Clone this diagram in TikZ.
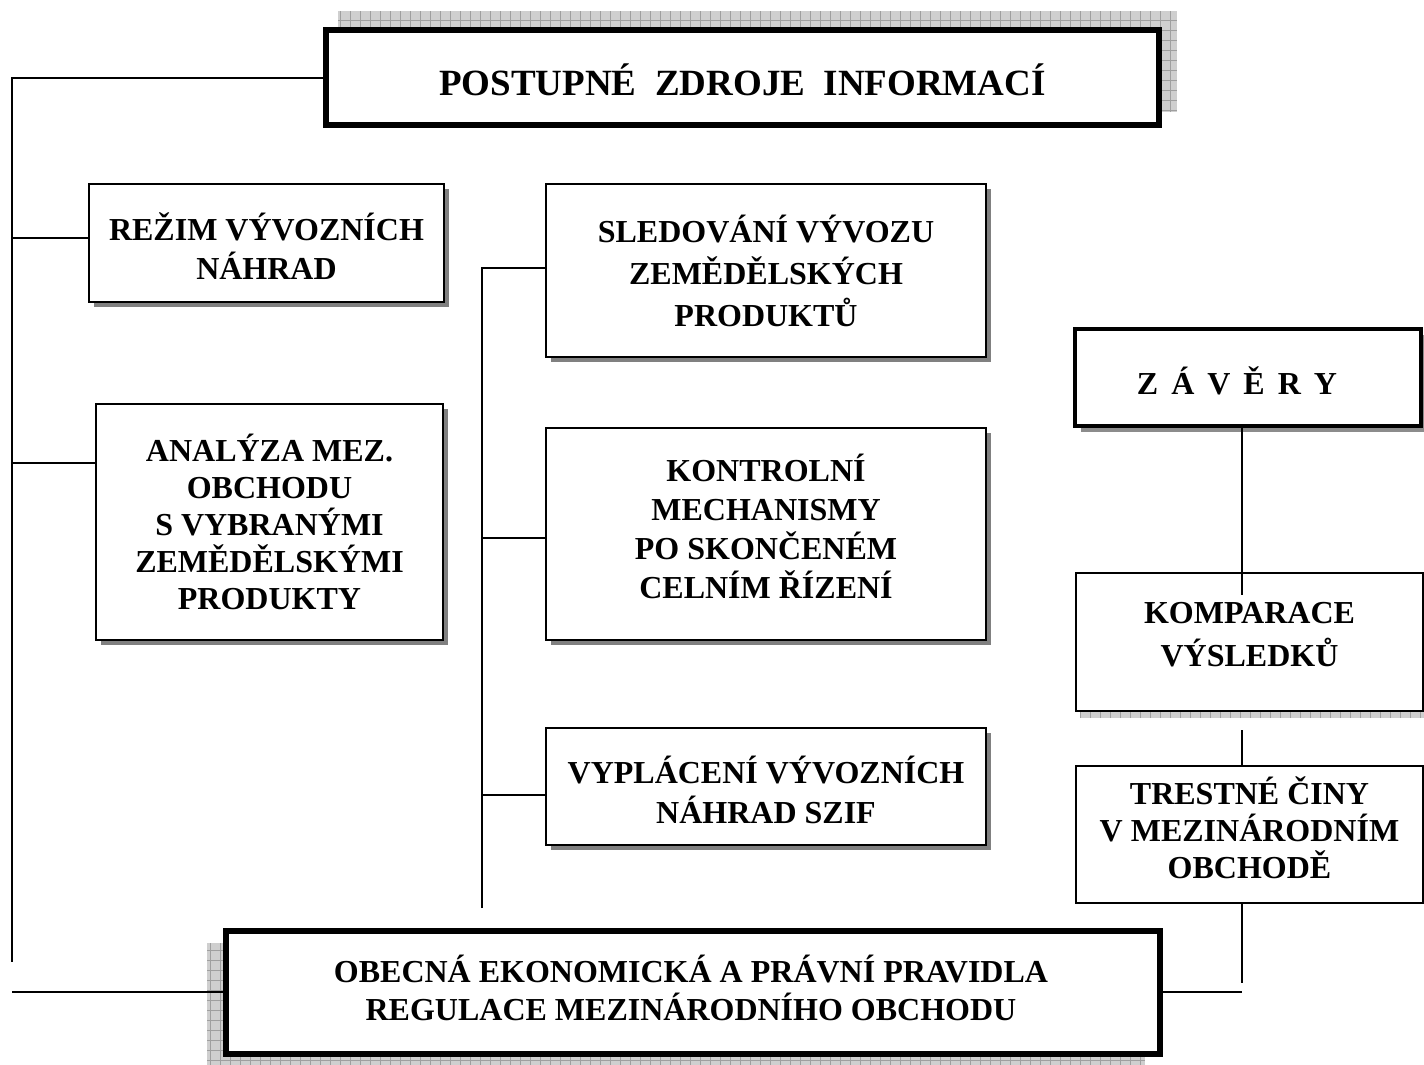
\documentclass[tikz,border=0pt]{standalone}
\usepackage{fontspec}
\setmainfont{Liberation Serif}
\usetikzlibrary{shadows}
\newcommand\myhatch[2]{%
  \begin{scope}
    \clip #1 rectangle #2;
    \fill[hatchfill] #1 rectangle #2;
    \draw[hatchgrid, step=10pt] #1 grid #2;
  \end{scope}}
\begin{document}
\begin{tikzpicture}[x=1pt,y=-1pt,
  plainbox/.style={draw, line width=2pt, fill=white, inner sep=0pt},
  box/.style={plainbox, drop shadow={shadow xshift=5pt, shadow yshift=-5pt, fill=black!50, opacity=1}},
  txt/.style={align=center, inner sep=0pt, font=\bfseries\fontsize{32}{#1}\selectfont},
  txt/.default=39,
  conn/.style={line width=1.8pt},
  hatchfill/.style={fill=gray!38},
  hatchgrid/.style={draw=gray!75, line width=0.8pt}
]
\useasboundingbox (0,0) rectangle (1424,1065);
\fill[white] (0,0) rectangle (1424,1065);

% hatched shadows
\myhatch{(338,11)}{(1177,112)}
\myhatch{(207,943)}{(1145,1075)}
\myhatch{(1080,712)}{(1430,718)}

% boxes
\node[plainbox, line width=5.5pt, minimum width=833pt, minimum height=95pt] (top) at (742.5,77.5) {};
\node[box, minimum width=355pt, minimum height=118pt] (rezim) at (266.5,243) {};
\node[box, minimum width=347pt, minimum height=236pt] (analyza) at (269.5,522) {};
\node[box, minimum width=440pt, minimum height=173pt] (sled) at (766,270.5) {};
\node[box, minimum width=440pt, minimum height=212pt] (kontr) at (766,534) {};
\node[box, minimum width=440pt, minimum height=117pt] (vypl) at (766,786.5) {};
\node[plainbox, line width=4.5pt, minimum width=346pt, minimum height=97pt,
  drop shadow={shadow xshift=6pt, shadow yshift=-6pt, fill=black!45, opacity=1}] (zav) at (1248,377.5) {};
\node[plainbox, minimum width=347pt, minimum height=138pt] (komp) at (1249.5,642) {};
\node[plainbox, minimum width=347pt, minimum height=137pt] (trest) at (1249.5,834.5) {};
\node[plainbox, line width=5.5pt, minimum width=934pt, minimum height=123pt] (bottom) at (693,992.5) {};

% texts
\node[txt, font=\bfseries\fontsize{37}{44}\selectfont] (topt) at ([yshift=-2pt]top.center) {POSTUPNÉ~~ZDROJE~~INFORMACÍ};
\node[txt] (rezimt) at ([yshift=-3pt]rezim.center) {REŽIM VÝVOZNÍCH\\NÁHRAD};
\node[txt=37] (analyzat) at (analyza.center) {ANALÝZA MEZ.\\OBCHODU\\S VYBRANÝMI\\ZEMĚDĚLSKÝMI\\PRODUKTY};
\node[txt=42] (sledt) at (sled.center) {SLEDOVÁNÍ VÝVOZU\\ZEMĚDĚLSKÝCH\\PRODUKTŮ};
\node[txt=39] (kontrt) at ([yshift=8pt]kontr.center) {KONTROLNÍ\\MECHANISMY\\PO SKONČENÉM\\CELNÍM ŘÍZENÍ};
\node[txt=40] (vyplt) at ([yshift=-3pt]vypl.center) {VYPLÁCENÍ VÝVOZNÍCH\\NÁHRAD SZIF};
\node[txt] (zavt) at ([yshift=-3pt]zav.center) {Z\hspace{13pt}Á\hspace{13pt}V\hspace{13pt}Ě\hspace{13pt}R\hspace{13pt}Y\hspace{22pt}};
\node[txt=43] (kompt) at ([yshift=7pt]komp.center) {KOMPARACE\\VÝSLEDKŮ};
\node[txt=37] (trestt) at ([yshift=7pt]trest.center) {TRESTNÉ ČINY\\V MEZINÁRODNÍM\\OBCHODĚ};
\node[txt=38] (bottomt) at ([xshift=-2pt,yshift=5pt]bottom.center) {OBECNÁ EKONOMICKÁ A PRÁVNÍ PRAVIDLA\\REGULACE MEZINÁRODNÍHO OBCHODU};

% coordinates
\coordinate (lt) at (12,78);
\coordinate (lb) at (12,962);
\coordinate (jr) at (12,238);
\coordinate (ja) at (12,463);
\coordinate (jb) at (12,992);
\coordinate (mt) at (482,268);
\coordinate (mk) at (482,538);
\coordinate (mv) at (482,795);
\coordinate (mb) at (482,908);
\coordinate (zc) at (1242,595);
\coordinate (tc) at (1242,730);
\coordinate (tb) at (1242,983);
\coordinate (be) at (1242,992);

% connectors
\draw[conn] (top.west |- lt) -- (lt) -- (lb);
\draw[conn] (jr) -- (jr -| rezim.west);
\draw[conn] (ja) -- (ja -| analyza.west);
\draw[conn] (jb) -- (jb -| bottom.west);
\draw[conn] (mb) -- (mt) -- (mt -| sled.west);
\draw[conn] (mk) -- (mk -| kontr.west);
\draw[conn] (mv) -- (mv -| vypl.west);
\draw[conn] (zc |- zav.south) -- (zc);
\draw[conn] (tc) -- (tc |- trest.north);
\draw[conn] (tb |- trest.south) -- (tb);
\draw[conn] (be -| bottom.east) -- (be);
\end{tikzpicture}
\end{document}
